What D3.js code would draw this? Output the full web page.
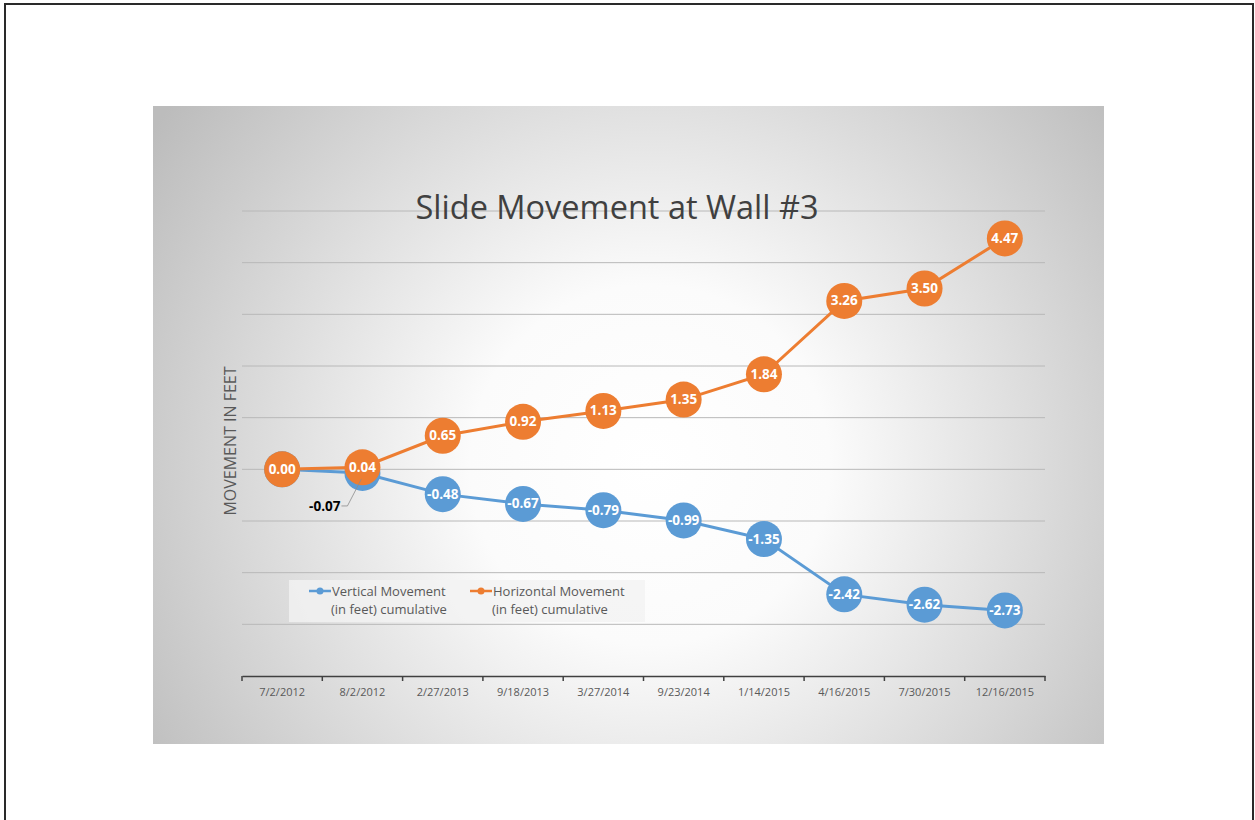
<!DOCTYPE html>
<html>
<meta charset="utf-8">
<title>Slide Movement at Wall #3</title>
<style>
  body { margin: 0; background: #fff; }
  text { font-family: "Open Sans", "Noto Sans", sans-serif; }
</style>
<body>
<div id="chart"></div>
<script src="https://d3js.org/d3.v7.min.js"></script>
<script>
// data
var dates = ["7/2/2012", "8/2/2012", "2/27/2013", "9/18/2013", "3/27/2014",
             "9/23/2014", "1/14/2015", "4/16/2015", "7/30/2015", "12/16/2015"];
var vertical = [0.00, -0.07, -0.48, -0.67, -0.79, -0.99, -1.35, -2.42, -2.62, -2.73];
var horizontal = [0.00, 0.04, 0.65, 0.92, 1.13, 1.35, 1.84, 3.26, 3.50, 4.47];
var yTicks = [-4, -3, -2, -1, 0, 1, 2, 3, 4, 5];
var seriesNames = [
  ["Vertical Movement", "(in feet) cumulative"],
  ["Horizontal Movement", "(in feet) cumulative"]
];

var W = 1255, H = 820;
var blue = "#5b9bd5", orange = "#ed7d31";

var svg = d3.select("#chart").append("svg")
  .attr("width", W).attr("height", H);

// page frame
svg.append("rect")
  .attr("x", 5).attr("y", 4).attr("width", 1248).attr("height", 820)
  .attr("fill", "#fff").attr("stroke", "#2a2a2a").attr("stroke-width", 2);

// chart area with radial gradient
var defs = svg.append("defs");
var grad = defs.append("radialGradient").attr("id", "bg")
  .attr("gradientUnits", "userSpaceOnUse")
  .attr("cx", 650).attr("cy", 465).attr("r", 600);
grad.append("stop").attr("offset", "0%").attr("stop-color", "#ffffff");
grad.append("stop").attr("offset", "30%").attr("stop-color", "#fbfbfb");
grad.append("stop").attr("offset", "100%").attr("stop-color", "#bcbcbc");

svg.append("rect")
  .attr("x", 153).attr("y", 106).attr("width", 951).attr("height", 638)
  .attr("fill", "url(#bg)");

var x = d3.scaleBand().domain(dates).range([242, 1045]).padding(0);
var y = d3.scaleLinear().domain([-4, 5]).range([676, 211]);
var cx = function (i) { return x(dates[i]) + x.bandwidth() / 2; };
var fmt = function (v) { return v.toFixed(2); };

// gridlines
svg.append("g").selectAll("line")
  .data(yTicks.filter(function (t) { return t > -4; }))
  .join("line")
  .attr("x1", 242).attr("x2", 1045)
  .attr("y1", function (d) { return y(d); })
  .attr("y2", function (d) { return y(d); })
  .attr("stroke", "#b8b8b8").attr("stroke-width", 1);

// x axis
var xAxis = svg.append("g")
  .attr("transform", "translate(0," + y(-4) + ")")
  .call(d3.axisBottom(x).tickSize(0).tickPadding(12));
xAxis.select(".domain").attr("stroke", "#404040").attr("stroke-width", 1.5);
xAxis.selectAll("text")
  .attr("fill", "#595959").style("font-size", "11px")
  .style("font-family", "'Open Sans', sans-serif");
xAxis.selectAll(".bound")
  .data(dates.concat(["end"]))
  .join("line")
  .attr("class", "bound")
  .attr("x1", function (d, i) { return 242 + i * x.step(); })
  .attr("x2", function (d, i) { return 242 + i * x.step(); })
  .attr("y1", 0).attr("y2", 5)
  .attr("stroke", "#404040").attr("stroke-width", 1.5);

// title
svg.append("text")
  .attr("x", 617).attr("y", 219)
  .attr("text-anchor", "middle")
  .attr("fill", "#404040")
  .style("font-size", "32.5px")
  .text("Slide Movement at Wall #3");

// y axis title
svg.append("text")
  .attr("transform", "translate(236,441) rotate(-90)")
  .attr("text-anchor", "middle")
  .attr("fill", "#595959")
  .style("font-size", "16px")
  .text("MOVEMENT IN FEET");

var line = d3.line()
  .x(function (d, i) { return cx(i); })
  .y(function (d) { return y(d); });

function drawSeries(values, color, skip) {
  var pts = values.map(function (v, i) { return { v: v, i: i }; });
  var g = svg.append("g");
  g.append("path")
    .attr("d", line(values))
    .attr("fill", "none").attr("stroke", color).attr("stroke-width", 3);
  g.selectAll("circle").data(pts).join("circle")
    .attr("cx", function (d) { return cx(d.i); })
    .attr("cy", function (d) { return y(d.v); })
    .attr("r", 18).attr("fill", color);
  g.selectAll("text")
    .data(pts.filter(function (d) { return skip.indexOf(d.i) < 0; }))
    .join("text")
    .attr("x", function (d) { return cx(d.i); })
    .attr("y", function (d) { return y(d.v) + 4.5; })
    .attr("text-anchor", "middle")
    .attr("fill", "#fff")
    .style("font-size", "13.5px").style("font-weight", "bold")
    .text(function (d) { return fmt(d.v); });
}

drawSeries(vertical, blue, [1]);
drawSeries(horizontal, orange, []);

// callout label for the covered vertical point
var cx1 = cx(1), cy1 = y(vertical[1]);
svg.append("polyline")
  .attr("points", [[cx1 - 21, cy1 + 33], [cx1 - 15, cy1 + 33], [cx1 - 1, cy1 + 6]].join(" "))
  .attr("fill", "none").attr("stroke", "#8c8c8c").attr("stroke-width", 0.8);
svg.append("text")
  .attr("x", cx1 - 22).attr("y", cy1 + 38)
  .attr("text-anchor", "end")
  .attr("fill", "#000")
  .style("font-size", "13.5px").style("font-weight", "bold")
  .text(fmt(vertical[1]));

// legend
var lg = svg.append("g");
lg.append("rect")
  .attr("x", 289).attr("y", 580).attr("width", 356).attr("height", 42)
  .attr("fill", "#f2f2f2").attr("opacity", 0.8);
var items = lg.selectAll("g.item").data(seriesNames).join("g")
  .attr("class", "item")
  .attr("transform", function (d, i) { return "translate(" + (i === 0 ? 309 : 470) + ",591)"; });
items.append("line")
  .attr("x1", 0).attr("x2", 22)
  .attr("stroke", function (d, i) { return i === 0 ? blue : orange; })
  .attr("stroke-width", 2.5);
items.append("circle")
  .attr("cx", 11).attr("r", 3.5)
  .attr("fill", function (d, i) { return i === 0 ? blue : orange; });
items.append("text")
  .attr("x", 23).attr("y", 5)
  .attr("fill", "#595959").style("font-size", "13px")
  .text(function (d) { return d[0]; });
items.append("text")
  .attr("x", 22).attr("y", 23)
  .attr("fill", "#595959").style("font-size", "13px")
  .text(function (d) { return d[1]; });
</script>
</body>
</html>
